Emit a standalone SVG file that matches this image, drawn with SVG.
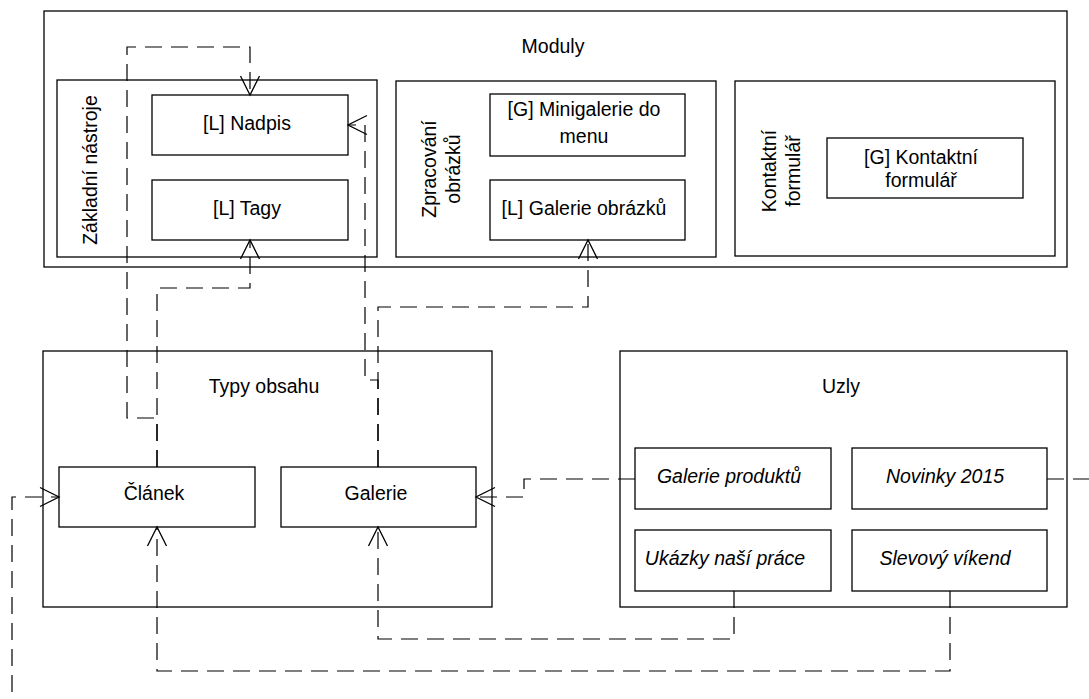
<svg xmlns="http://www.w3.org/2000/svg" width="1089" height="699" viewBox="0 0 1089 699">
<style>
.box{fill:#fff;stroke:#000;stroke-width:1.3}
text{font-family:"Liberation Sans",Arial,sans-serif;font-size:19.5px;fill:#000;text-anchor:middle}
.it{font-style:italic}
.con path{fill:none;stroke:#000;stroke-width:1.2;stroke-dasharray:17 9}
</style>
<defs>
<marker id="arr" markerUnits="userSpaceOnUse" markerWidth="40" markerHeight="40" refX="0" refY="0" orient="auto" overflow="visible">
<path d="M-19,-9.5 L0,0 L-19,9.5" fill="none" stroke="#000" stroke-width="1.3"/>
</marker>
</defs>
<rect width="1089" height="699" fill="#fff"/>
<g id="moduly">
<rect class="box" x="44" y="11" width="1023" height="256"/>
<text x="553" y="53">Moduly</text>
</g>
<g id="zakladni-nastroje">
<rect class="box" x="57" y="80" width="320" height="177"/>
<text transform="translate(97,170) rotate(-90)">Základní nástroje</text>
</g>
<g id="nadpis">
<rect class="box" x="152" y="95" width="196" height="60"/>
<text x="247" y="130">[L] Nadpis</text>
</g>
<g id="tagy">
<rect class="box" x="152" y="180" width="196" height="60"/>
<text x="247" y="215">[L] Tagy</text>
</g>
<g id="zpracovani-obrazku">
<rect class="box" x="396" y="81" width="320" height="176"/>
<text transform="translate(436,169) rotate(-90)">Zpracování</text>
<text transform="translate(460,169) rotate(-90)">obrázků</text>
</g>
<g id="minigalerie">
<rect class="box" x="490" y="94" width="195" height="62"/>
<text x="584" y="116">[G] Minigalerie do</text>
<text x="584" y="143">menu</text>
</g>
<g id="galerie-obrazku">
<rect class="box" x="490" y="180" width="195" height="60"/>
<text x="584" y="215">[L] Galerie obrázků</text>
</g>
<g id="kontaktni-formular-modul">
<rect class="box" x="735" y="81" width="320" height="175"/>
<text transform="translate(776,171) rotate(-90)">Kontaktní</text>
<text transform="translate(800,171) rotate(-90)">formulář</text>
</g>
<g id="kontaktni-formular">
<rect class="box" x="827" y="138" width="196" height="60"/>
<text x="921" y="164">[G] Kontaktní</text>
<text x="921" y="187">formulář</text>
</g>
<g id="typy-obsahu">
<rect class="box" x="43" y="351" width="449" height="256"/>
<text x="264" y="393">Typy obsahu</text>
</g>
<g id="clanek">
<rect class="box" x="59" y="467" width="196" height="60"/>
<text x="154" y="500">Článek</text>
</g>
<g id="galerie">
<rect class="box" x="281" y="467" width="195" height="60"/>
<text x="376" y="500">Galerie</text>
</g>
<g id="uzly">
<rect class="box" x="620" y="351" width="447" height="256"/>
<text x="841" y="393">Uzly</text>
</g>
<g id="galerie-produktu">
<rect class="box" x="635" y="448" width="196" height="61"/>
<text class="it" x="729" y="483">Galerie produktů</text>
</g>
<g id="novinky-2015">
<rect class="box" x="852" y="448" width="195" height="61"/>
<text class="it" x="945" y="483">Novinky 2015</text>
</g>
<g id="ukazky">
<rect class="box" x="635" y="530" width="196" height="61"/>
<text class="it" x="725" y="565">Ukázky naší práce</text>
</g>
<g id="slevovy-vikend">
<rect class="box" x="852" y="530" width="195" height="61"/>
<text class="it" x="945" y="565">Slevový víkend</text>
</g>
<g id="connectors" class="con">
<path d="M157,467 V288 H250 V240" marker-end="url(#arr)"/>
<path d="M157,467 V418 H127 V47 H250 V95" marker-end="url(#arr)"/>
<path d="M378,467 V307 H588 V240" marker-end="url(#arr)"/>
<path d="M378,467 V380 H365 V125 H348" marker-end="url(#arr)"/>
<path d="M635,479 H524 V497 H476" marker-end="url(#arr)"/>
<path d="M1047,479 H1110 V720 H12 V497 H59" marker-end="url(#arr)"/>
<path d="M734,591 V639 H378 V527" marker-end="url(#arr)"/>
<path d="M950,591 V671 H157 V527" marker-end="url(#arr)"/>
</g>
</svg>
